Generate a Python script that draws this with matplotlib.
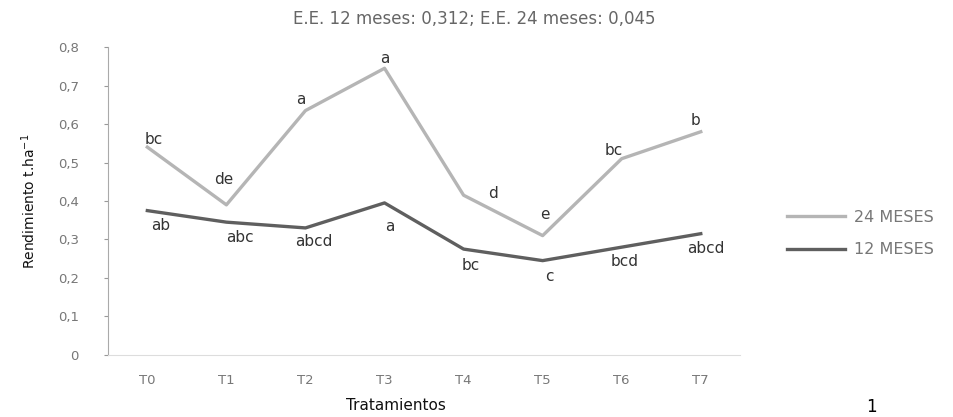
import matplotlib
matplotlib.use("Agg")
import matplotlib.pyplot as plt

categories = ["T0", "T1", "T2", "T3", "T4", "T5", "T6", "T7"]
meses24 = [0.54, 0.39, 0.635, 0.745, 0.415, 0.31, 0.51, 0.58]
meses12 = [0.375, 0.345, 0.33, 0.395, 0.275, 0.245, 0.28, 0.315]
labels24 = ["bc", "de", "a", "a", "d", "e", "bc", "b"]
labels12 = ["ab", "abc", "abcd", "a", "bc", "c", "bcd", "abcd"]
yticks = [0, 0.1, 0.2, 0.3, 0.4, 0.5, 0.6, 0.7, 0.8]
yticklabels = ["0", "0,1", "0,2", "0,3", "0,4", "0,5", "0,6", "0,7", "0,8"]

# label offsets in pixels (style, not data)
off24 = [(6, 8), (-3, 25), (-5, 11), (0, 10), (29, 2), (2, 21), (-8, 8), (-5, 11)]
off12 = [(13, -15), (14, -15), (8, -14), (5, -24), (7, -16), (7, -16), (3, -14), (5, -15)]

fig = plt.figure(figsize=(9.54, 4.17), dpi=100)
ax = fig.add_axes([0.113, 0.149, 0.663, 0.738])
x = list(range(len(categories)))
l24, = ax.plot(x, meses24, color="#b5b5b5", lw=2.4, label="24 MESES")
l12, = ax.plot(x, meses12, color="#5f5f5f", lw=2.4, label="12 MESES")

for i, (v, t) in enumerate(zip(meses24, labels24)):
    ax.annotate(t, (i, v), xytext=off24[i], textcoords="offset pixels",
                ha="center", va="center", fontsize=11, color="#333333")
for i, (v, t) in enumerate(zip(meses12, labels12)):
    ax.annotate(t, (i, v), xytext=off12[i], textcoords="offset pixels",
                ha="center", va="center", fontsize=11, color="#333333")

ax.set_xlim(-0.5, len(categories) - 0.5)
ax.set_ylim(0, 0.8)
ax.set_yticks(yticks)
ax.set_yticklabels(yticklabels)
ax.set_xticks(x)
ax.set_xticklabels(categories)
ax.tick_params(axis="both", colors="#999999", labelcolor="#777777", labelsize=9.5)
ax.tick_params(axis="x", length=0, pad=14)
ax.tick_params(axis="y", length=3, pad=18)
for s in ["top", "right"]:
    ax.spines[s].set_visible(False)
ax.spines["left"].set_color("#aaaaaa")
ax.spines["bottom"].set_color("#dddddd")

ax.set_ylabel("Rendimiento t.ha$^{-1}$", fontsize=10, color="#111111", labelpad=14)
ax.set_xlabel("Tratamientos", fontsize=11, color="#111111")
ax.xaxis.set_label_coords(0.455, -0.14)
fig.text(0.497, 0.955, "E.E. 12 meses: 0,312; E.E. 24 meses: 0,045",
         ha="center", va="center", fontsize=12, color="#666666")

fig.legend(handles=[l24, l12], loc="center left", bbox_to_anchor=(0.81, 0.44),
           frameon=False, fontsize=11.5, labelcolor="#777777",
           handlelength=3.6, handletextpad=0.6, labelspacing=1.1)
fig.text(0.913, 0.025, "1", fontsize=12, color="black", ha="center", va="center")

fig.savefig("out.png", dpi=100, facecolor="white")
